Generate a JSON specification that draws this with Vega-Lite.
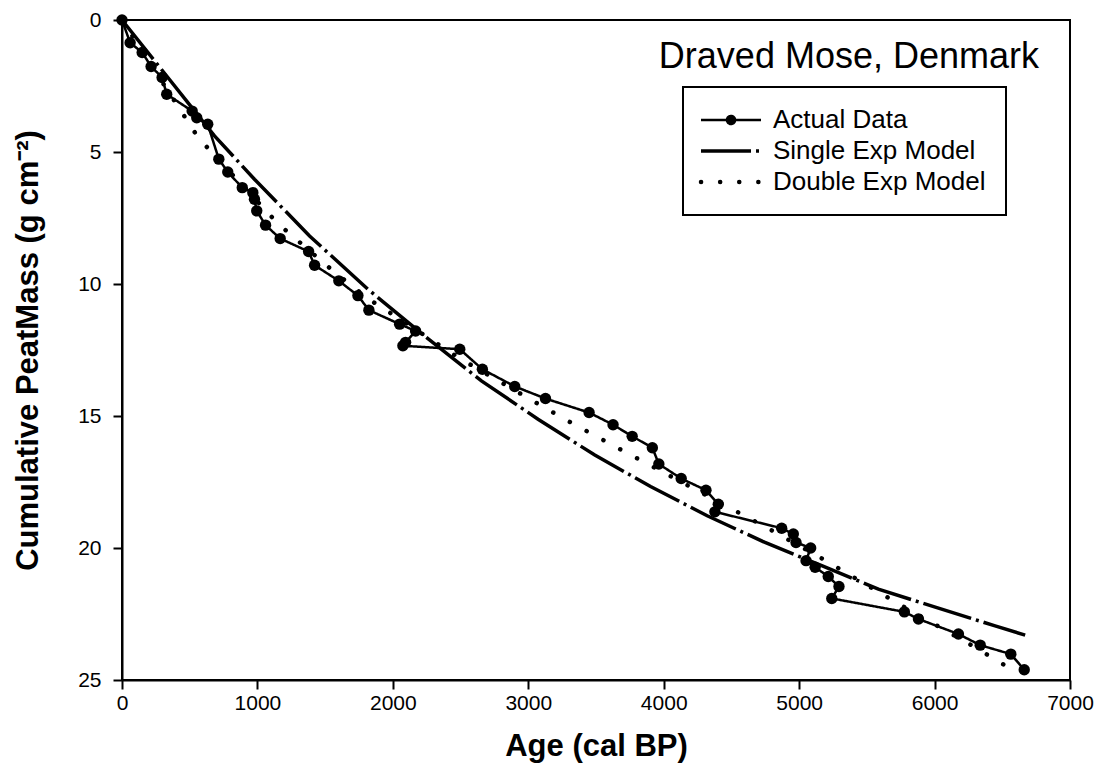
{
  "$schema": "https://vega.github.io/schema/vega-lite/v6.json",
  "width": 948,
  "height": 660,
  "autosize": {"type": "none"},
  "padding": {"left": 122, "top": 20, "right": 35, "bottom": 102},
  "background": "white",
  "config": {
    "font": "Liberation Sans",
    "view": {"stroke": "black", "strokeWidth": 2},
    "axis": {
      "domainColor": "black", "domainWidth": 2, "tickColor": "black", "tickWidth": 2, "tickSize": 9,
      "labelColor": "black", "titleColor": "black", "grid": false,
      "labelFont": "Liberation Sans", "titleFont": "Liberation Sans",
      "labelFontSize": 21, "titleFontSize": 31, "titleFontWeight": "bold"
    }
  },
  "title": {
    "text": "Draved Mose, Denmark", "anchor": "end", "orient": "top", "frame": "group",
    "offset": -49, "dy": 46, "baseline": "alphabetic", "fontSize": 36, "fontWeight": "normal",
    "font": "Liberation Sans", "color": "black", "dx": -31
  },
  "data": {
    "values": [
      {"series": "Actual Data", "i": 1, "age": 0, "mass": 0},
      {"series": "Actual Data", "i": 2, "age": 60, "mass": 0.86},
      {"series": "Actual Data", "i": 3, "age": 149, "mass": 1.23},
      {"series": "Actual Data", "i": 4, "age": 215, "mass": 1.76},
      {"series": "Actual Data", "i": 5, "age": 296, "mass": 2.18},
      {"series": "Actual Data", "i": 6, "age": 330, "mass": 2.81},
      {"series": "Actual Data", "i": 7, "age": 518, "mass": 3.45},
      {"series": "Actual Data", "i": 8, "age": 552, "mass": 3.70},
      {"series": "Actual Data", "i": 9, "age": 633, "mass": 3.95},
      {"series": "Actual Data", "i": 10, "age": 715, "mass": 5.27},
      {"series": "Actual Data", "i": 11, "age": 781, "mass": 5.76},
      {"series": "Actual Data", "i": 12, "age": 888, "mass": 6.35},
      {"series": "Actual Data", "i": 13, "age": 966, "mass": 6.54},
      {"series": "Actual Data", "i": 14, "age": 978, "mass": 6.79},
      {"series": "Actual Data", "i": 15, "age": 995, "mass": 7.23},
      {"series": "Actual Data", "i": 16, "age": 1060, "mass": 7.77},
      {"series": "Actual Data", "i": 17, "age": 1168, "mass": 8.28},
      {"series": "Actual Data", "i": 18, "age": 1378, "mass": 8.77},
      {"series": "Actual Data", "i": 19, "age": 1422, "mass": 9.29},
      {"series": "Actual Data", "i": 20, "age": 1601, "mass": 9.88},
      {"series": "Actual Data", "i": 21, "age": 1742, "mass": 10.44},
      {"series": "Actual Data", "i": 22, "age": 1823, "mass": 10.99},
      {"series": "Actual Data", "i": 23, "age": 2050, "mass": 11.52},
      {"series": "Actual Data", "i": 24, "age": 2168, "mass": 11.78},
      {"series": "Actual Data", "i": 25, "age": 2094, "mass": 12.21},
      {"series": "Actual Data", "i": 26, "age": 2074, "mass": 12.34},
      {"series": "Actual Data", "i": 27, "age": 2494, "mass": 12.47},
      {"series": "Actual Data", "i": 28, "age": 2661, "mass": 13.23},
      {"series": "Actual Data", "i": 29, "age": 2900, "mass": 13.88},
      {"series": "Actual Data", "i": 30, "age": 3127, "mass": 14.34},
      {"series": "Actual Data", "i": 31, "age": 3449, "mass": 14.87},
      {"series": "Actual Data", "i": 32, "age": 3626, "mass": 15.33},
      {"series": "Actual Data", "i": 33, "age": 3767, "mass": 15.77},
      {"series": "Actual Data", "i": 34, "age": 3916, "mass": 16.20},
      {"series": "Actual Data", "i": 35, "age": 3964, "mass": 16.82},
      {"series": "Actual Data", "i": 36, "age": 4129, "mass": 17.37},
      {"series": "Actual Data", "i": 37, "age": 4312, "mass": 17.81},
      {"series": "Actual Data", "i": 38, "age": 4403, "mass": 18.34},
      {"series": "Actual Data", "i": 39, "age": 4378, "mass": 18.63},
      {"series": "Actual Data", "i": 40, "age": 4871, "mass": 19.25},
      {"series": "Actual Data", "i": 41, "age": 4957, "mass": 19.47},
      {"series": "Actual Data", "i": 42, "age": 4977, "mass": 19.79},
      {"series": "Actual Data", "i": 43, "age": 5085, "mass": 20.00},
      {"series": "Actual Data", "i": 44, "age": 5051, "mass": 20.48},
      {"series": "Actual Data", "i": 45, "age": 5118, "mass": 20.73},
      {"series": "Actual Data", "i": 46, "age": 5215, "mass": 21.08},
      {"series": "Actual Data", "i": 47, "age": 5294, "mass": 21.46},
      {"series": "Actual Data", "i": 48, "age": 5241, "mass": 21.91},
      {"series": "Actual Data", "i": 49, "age": 5777, "mass": 22.42},
      {"series": "Actual Data", "i": 50, "age": 5881, "mass": 22.69},
      {"series": "Actual Data", "i": 51, "age": 6176, "mass": 23.26},
      {"series": "Actual Data", "i": 52, "age": 6337, "mass": 23.68},
      {"series": "Actual Data", "i": 53, "age": 6563, "mass": 24.02},
      {"series": "Actual Data", "i": 54, "age": 6662, "mass": 24.61},
      {"series": "Single Exp Model", "i": 1, "age": 0, "mass": 0},
      {"series": "Single Exp Model", "i": 2, "age": 683, "mass": 4.39},
      {"series": "Single Exp Model", "i": 3, "age": 978, "mass": 6.03},
      {"series": "Single Exp Model", "i": 4, "age": 1385, "mass": 8.18},
      {"series": "Single Exp Model", "i": 5, "age": 1816, "mass": 10.20},
      {"series": "Single Exp Model", "i": 6, "age": 2235, "mass": 11.97},
      {"series": "Single Exp Model", "i": 7, "age": 2654, "mass": 13.67},
      {"series": "Single Exp Model", "i": 8, "age": 3072, "mass": 15.12},
      {"series": "Single Exp Model", "i": 9, "age": 3491, "mass": 16.48},
      {"series": "Single Exp Model", "i": 10, "age": 3903, "mass": 17.67},
      {"series": "Single Exp Model", "i": 11, "age": 4321, "mass": 18.78},
      {"series": "Single Exp Model", "i": 12, "age": 4748, "mass": 19.79},
      {"series": "Single Exp Model", "i": 13, "age": 5167, "mass": 20.67},
      {"series": "Single Exp Model", "i": 14, "age": 5585, "mass": 21.56},
      {"series": "Single Exp Model", "i": 15, "age": 6011, "mass": 22.25},
      {"series": "Single Exp Model", "i": 16, "age": 6447, "mass": 22.95},
      {"series": "Single Exp Model", "i": 17, "age": 6669, "mass": 23.30},
      {"series": "Double Exp Model", "i": 1, "age": 0, "mass": 0},
      {"series": "Double Exp Model", "i": 2, "age": 542, "mass": 4.29},
      {"series": "Double Exp Model", "i": 3, "age": 651, "mass": 4.96},
      {"series": "Double Exp Model", "i": 4, "age": 1151, "mass": 7.71},
      {"series": "Double Exp Model", "i": 5, "age": 1557, "mass": 9.50},
      {"series": "Double Exp Model", "i": 6, "age": 1823, "mass": 10.58},
      {"series": "Double Exp Model", "i": 7, "age": 1964, "mass": 11.04},
      {"series": "Double Exp Model", "i": 8, "age": 2494, "mass": 12.82},
      {"series": "Double Exp Model", "i": 9, "age": 3035, "mass": 14.43},
      {"series": "Double Exp Model", "i": 10, "age": 3301, "mass": 15.21},
      {"series": "Double Exp Model", "i": 11, "age": 3700, "mass": 16.32},
      {"series": "Double Exp Model", "i": 12, "age": 4779, "mass": 19.28},
      {"series": "Double Exp Model", "i": 13, "age": 5186, "mass": 20.45},
      {"series": "Double Exp Model", "i": 14, "age": 5716, "mass": 22.06},
      {"series": "Double Exp Model", "i": 15, "age": 6268, "mass": 23.67},
      {"series": "Double Exp Model", "i": 16, "age": 6538, "mass": 24.50}
    ]
  },
  "encoding": {
    "x": {
      "field": "age", "type": "quantitative",
      "scale": {"domain": [0, 7000], "nice": false},
      "axis": {"values": [0, 1000, 2000, 3000, 4000, 5000, 6000, 7000], "format": "d", "labelPadding": 3, "titlePadding": 18, "title": "Age (cal BP)", "labelFlush": false}
    },
    "y": {
      "field": "mass", "type": "quantitative",
      "scale": {"domain": [0, 25], "reverse": true, "nice": false},
      "axis": {"values": [0, 5, 10, 15, 20, 25], "labelPadding": 12, "titlePadding": 33, "title": "Cumulative PeatMass (g cm⁻²)"}
    },
    "order": {"field": "i", "type": "quantitative"}
  },
  "layer": [
    {
      "transform": [{"filter": "datum.series == 'Single Exp Model'"}],
      "mark": {"type": "line", "strokeWidth": 3.5, "color": "black", "strokeCap": "butt"},
      "encoding": {
        "strokeDash": {
          "field": "series", "type": "nominal",
          "scale": {"domain": ["Actual Data", "Single Exp Model", "Double Exp Model"], "range": [[1, 0], [50, 5, 3, 5], [0.1, 19]]},
          "legend": {
            "title": null, "orient": "none", "legendX": 561, "legendY": 67,
            "strokeColor": "black", "fillColor": "white", "padding": 20,
            "symbolType": "M-1,0L3,0", "symbolSize": 900, "symbolStrokeColor": "black", "symbolStrokeWidth": 2.5,
            "labelFontSize": 26, "labelFont": "Liberation Sans", "labelColor": "black", "labelOffset": 44,
            "rowPadding": 5, "labelLimit": 400,
            "encode": {
              "legend": {"update": {"strokeWidth": {"value": 2}}},
              "symbols": {
                "update": {
                  "shape": {"signal": "datum.value === 'Actual Data' ? 'M-1,0L3,0M0.73,0A0.27,0.27,0,1,1,1.27,0A0.27,0.27,0,1,1,0.73,0' : 'M-1,0L3,0'"},
                  "fill": {"signal": "datum.value === 'Actual Data' ? 'black' : 'transparent'"},
                  "stroke": {"value": "black"},
                  "strokeWidth": {"signal": "datum.value === 'Double Exp Model' ? 4.5 : datum.value === 'Single Exp Model' ? 3.5 : 2.5"},
                  "strokeCap": {"signal": "datum.value === 'Double Exp Model' ? 'round' : 'butt'"},
                  "opacity": {"value": 1}
                }
              }
            }
          }
        }
      }
    },
    {
      "transform": [{"filter": "datum.series == 'Double Exp Model'"}],
      "mark": {"type": "line", "strokeWidth": 4.5, "color": "black", "strokeCap": "round"},
      "encoding": {"strokeDash": {"field": "series", "type": "nominal"}}
    },
    {
      "transform": [{"filter": "datum.series == 'Actual Data'"}],
      "mark": {"type": "line", "strokeWidth": 2.5, "color": "black"},
      "encoding": {"strokeDash": {"field": "series", "type": "nominal"}}
    },
    {
      "transform": [{"filter": "datum.series == 'Actual Data'"}],
      "mark": {"type": "point", "filled": true, "size": 130, "color": "black", "opacity": 1, "shape": "circle"}
    }
  ]
}
